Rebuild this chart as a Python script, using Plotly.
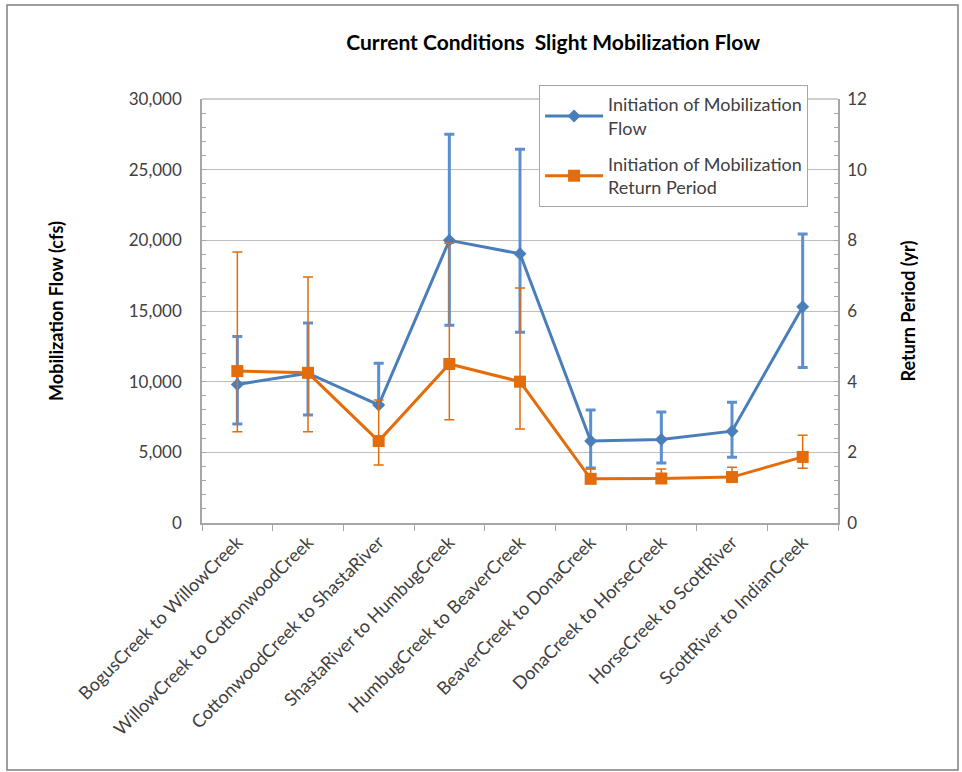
import plotly.graph_objects as go

# Reaches along the river
reaches = [
    "BogusCreek to WillowCreek",
    "WillowCreek to CottonwoodCreek",
    "CottonwoodCreek to ShastaRiver",
    "ShastaRiver to HumbugCreek",
    "HumbugCreek to BeaverCreek",
    "BeaverCreek to DonaCreek",
    "DonaCreek to HorseCreek",
    "HorseCreek to ScottRiver",
    "ScottRiver to IndianCreek",
]

# Initiation of mobilization flow (cfs) with upper / lower bounds
flow = [9800, 10600, 8350, 20000, 19050, 5800, 5900, 6500, 15300]
flow_high = [13200, 14150, 11300, 27500, 26450, 8000, 7850, 8550, 20450]
flow_low = [7000, 7650, 8350, 14000, 13500, 3900, 4250, 4650, 11000]

# Initiation of mobilization return period (yr) with upper / lower bounds
ret = [4.30, 4.25, 2.32, 4.50, 4.00, 1.25, 1.26, 1.30, 1.87]
ret_high = [7.67, 6.96, 3.48, 7.92, 6.65, 1.53, 1.53, 1.58, 2.48]
ret_low = [2.58, 2.58, 1.64, 2.92, 2.66, 1.15, 1.15, 1.20, 1.55]

BLUE = "#4a7ebb"
ORANGE = "#e46c0a"
FONT = "Lato"

fig = go.Figure()

fig.add_trace(go.Scatter(
    x=reaches, y=flow, mode="lines+markers",
    name="Initiation of Mobilization<br>Flow", legendgroup="flow",
    line=dict(color=BLUE, width=3),
    marker=dict(symbol="diamond", size=10, color=BLUE),
    error_y=dict(type="data", symmetric=False,
                 array=[h - v for h, v in zip(flow_high, flow)],
                 arrayminus=[v - l for v, l in zip(flow, flow_low)],
                 color="#5b8fd0", thickness=3, width=5),
))

fig.add_trace(go.Scatter(
    x=reaches, y=ret, mode="lines+markers", yaxis="y2",
    name="Initiation of Mobilization<br>Return Period", legendgroup="period",
    line=dict(color=ORANGE, width=3),
    marker=dict(symbol="square", size=12, color=ORANGE),
    error_y=dict(type="data", symmetric=False,
                 array=[h - v for h, v in zip(ret_high, ret)],
                 arrayminus=[v - l for v, l in zip(ret, ret_low)],
                 color=ORANGE, thickness=1.5, width=5),
))

fig.update_layout(
    width=962, height=772,
    margin=dict(l=202, r=124, t=99, b=249),
    paper_bgcolor="white", plot_bgcolor="white",
    font=dict(family=FONT, size=17, color="#404040"),
    title=dict(text="<b>Current Conditions  Slight Mobilization Flow</b>",
               x=0.575, xanchor="center", y=0.945, yanchor="middle",
               font=dict(family=FONT, size=21, color="#000000")),
    showlegend=True,
    legend=dict(x=0.53, y=1.033, xanchor="left", yanchor="top",
                bgcolor="white", bordercolor="#a6a6a6", borderwidth=1,
                font=dict(family=FONT, size=18, color="#404040"),
                tracegroupgap=10, itemwidth=58),
    xaxis=dict(
        type="category", tickangle=-45, tickson="boundaries",
        ticks="outside", ticklen=6, tickcolor="#a6a6a6",
        showline=True, linecolor="#a6a6a6", linewidth=1.5,
        showgrid=False, tickfont=dict(size=18, color="#404040"),
        range=[-0.5, len(reaches) - 0.5],
    ),
    yaxis=dict(
        range=[0, 30000], dtick=5000, tickformat=",d",
        showgrid=True, gridcolor="#bfbfbf", gridwidth=1,
        showline=True, linecolor="#a6a6a6", linewidth=1.5,
        ticks="inside", ticklen=4, tickcolor="#a6a6a6",
        ticklabelstandoff=15,
        minor=dict(dtick=1000, ticks="inside", ticklen=4, tickcolor="#a6a6a6"),
        zeroline=False, mirror=False,
        title=dict(text="<b>Mobilization Flow (cfs)</b>", standoff=60,
                   font=dict(size=18, color="#000000")),
    ),
    yaxis2=dict(
        range=[0, 12], dtick=2, overlaying="y", side="right",
        showgrid=False, showline=True, linecolor="#a6a6a6", linewidth=1.5,
        ticks="inside", ticklen=4, tickcolor="#a6a6a6",
        ticklabelstandoff=4,
        minor=dict(dtick=0.4, ticks="inside", ticklen=4, tickcolor="#a6a6a6"),
        zeroline=False,
        title=dict(text="<b>Return Period (yr)</b>", standoff=36,
                   font=dict(size=18, color="#000000")),
    ),
)

# Top border line of the plotting area
fig.add_shape(type="line", xref="paper", yref="paper", x0=0, x1=1, y0=1, y1=1,
              line=dict(color="#bfbfbf", width=1.5))

# Outer frame around the whole chart
fig.add_shape(type="rect", xref="paper", yref="paper",
              x0=(7 - 202) / 636, x1=(958 - 202) / 636,
              y0=(523 - 770) / 424, y1=(523 - 5) / 424,
              line=dict(color="#7f7f7f", width=1.5), layer="below")

fig.write_html("out.html")
